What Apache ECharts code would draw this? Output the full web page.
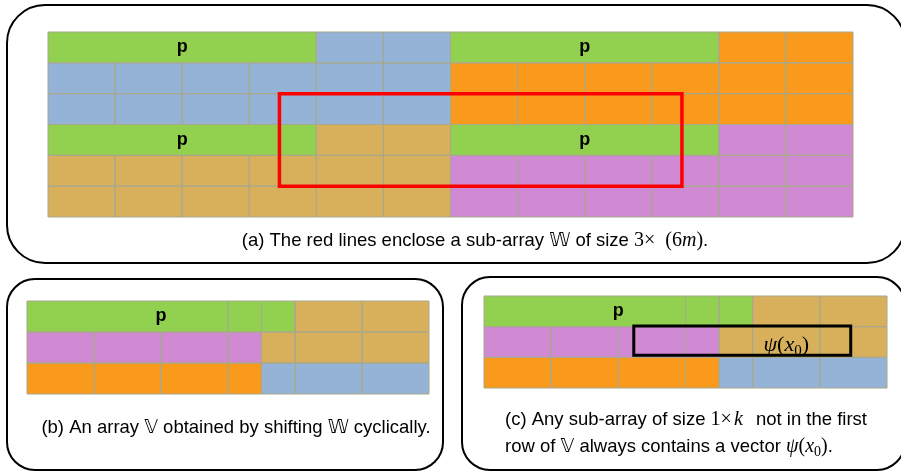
<!DOCTYPE html>
<html>
<head>
<meta charset="utf-8">
<script src="https://cdn.jsdelivr.net/npm/echarts@6/dist/echarts.min.js"></script>
<style>html,body{margin:0;padding:0;background:#fff}#c{width:901px;height:472px}</style>
</head>
<body>
<div id="c"></div>
<script>
// ---- data ----
// segment: [row, colStart, colEnd, colourKey, merged(1)]
const rowsA = [
  [0, 0, 4, 'G', 1], [0, 4, 6, 'B'], [0, 6, 10, 'G', 1], [0, 10, 12, 'O'],
  [1, 0, 6, 'B'], [1, 6, 12, 'O'],
  [2, 0, 6, 'B'], [2, 6, 12, 'O'],
  [3, 0, 4, 'G', 1], [3, 4, 6, 'T'], [3, 6, 10, 'G', 1], [3, 10, 12, 'P'],
  [4, 0, 6, 'T'], [4, 6, 12, 'P'],
  [5, 0, 6, 'T'], [5, 6, 12, 'P']
];
const labelsA = [[0, 2, 'p'], [0, 8, 'p'], [3, 2, 'p'], [3, 8, 'p']];
const redBoxA = [2, 5, 3.45, 9.45]; // rowStart,rowEnd,colStart,colEnd

const rowsB = [
  [0, 0, 3, 'G', 1], [0, 3, 3.5, 'G'], [0, 3.5, 4, 'G'], [0, 4, 6, 'T'],
  [1, 0, 3.5, 'P'], [1, 3.5, 6, 'T'],
  [2, 0, 3.5, 'O'], [2, 3.5, 6, 'B']
];
const labelsB = [[0, 2, 'p']];
const rowsC = rowsB;
const labelsC = [[0, 2, 'p']];
const blackBoxC = [0.98, 1.93, 2.23, 5.46];
const psiC = [1, 4.5];

const COLORS = {G: '#92d050', B: '#95b3d7', O: '#f99a1c', T: '#d8b05c', P: '#d08ad3'};

// split non-merged runs into unit cells
function toCells(rows) {
  const out = [];
  rows.forEach(([r, a, b, c, m]) => {
    if (m) { out.push({value: [r, a, b], itemStyle: {color: COLORS[c]}}); return; }
    const pts = [a];
    for (let k = Math.floor(a) + 1; k < b; k++) if (k > a) pts.push(k);
    pts.push(b);
    for (let i = 0; i < pts.length - 1; i++)
      out.push({value: [r, pts[i], pts[i + 1]], itemStyle: {color: COLORS[c]}});
  });
  return out;
}

function cellSeries(idx, rows, strokeOnly) {
  return {
    type: 'custom', xAxisIndex: idx, yAxisIndex: idx, silent: true, z: strokeOnly ? 3 : 2,
    encode: {x: [1, 2], y: 0},
    data: toCells(rows),
    renderItem: (p, api) => {
      const r = api.value(0), a = api.value(1), b = api.value(2);
      const p0 = api.coord([a, r]), p1 = api.coord([b, r + 1]);
      const shape = {x: p0[0], y: p0[1], width: p1[0] - p0[0], height: p1[1] - p0[1]};
      return strokeOnly
        ? {type: 'rect', shape, style: {fill: 'none', stroke: '#a8a88c', lineWidth: 1}}
        : {type: 'rect', shape, style: {fill: api.visual('color')}};
    }
  };
}
function labelSeries(idx, labels) {
  return {
    type: 'custom', xAxisIndex: idx, yAxisIndex: idx, silent: true, z: 5,
    encode: {x: 1, y: 0},
    data: labels.map(l => [l[0], l[1], l[2]]),
    renderItem: (p, api) => {
      const pt = api.coord([api.value(1), api.value(0) + 0.5]);
      return {type: 'text', x: pt[0], y: pt[1],
        style: {text: labels[p.dataIndex][2], fill: '#000', font: 'bold 18px "Liberation Sans", Arial, sans-serif',
          align: 'center', verticalAlign: 'middle'}};
    }
  };
}
function boxSeries(idx, box, color, lw) {
  return {
    type: 'custom', xAxisIndex: idx, yAxisIndex: idx, silent: true, z: 6,
    encode: {x: [2, 3], y: [0, 1]},
    data: [box],
    renderItem: (p, api) => {
      const p0 = api.coord([api.value(2), api.value(0)]), p1 = api.coord([api.value(3), api.value(1)]);
      return {type: 'rect', shape: {x: p0[0], y: p0[1], width: p1[0] - p0[0], height: p1[1] - p0[1]},
        style: {fill: 'none', stroke: color, lineWidth: lw}};
    }
  };
}

const grids = [
  {left: 48, top: 32, width: 805, height: 185},
  {left: 27, top: 301, width: 402, height: 93},
  {left: 484, top: 296, width: 403, height: 92}
];
const xMax = [12, 6, 6], yMax = [6, 3, 3];
const xAxes = grids.map((g, i) => ({type: 'value', gridIndex: i, min: 0, max: xMax[i], show: false}));
const yAxes = grids.map((g, i) => ({type: 'value', gridIndex: i, min: 0, max: yMax[i], inverse: true, show: false}));

const SANS = '"Liberation Sans", Arial, "DejaVu Sans", sans-serif';
const SERIF = '"Liberation Serif", "DejaVu Serif", serif';
const rich = {
  n: {fontFamily: SANS, fontSize: 18.5, fill: '#000'},
  d: {fontFamily: '"DejaVu Sans", sans-serif', fontSize: 19, fill: '#000'},
  m: {fontFamily: SERIF, fontSize: 20, fill: '#000'},
  mi: {fontFamily: SERIF, fontSize: 20, fontStyle: 'italic', fill: '#000'},
  mk: {fontFamily: SERIF, fontSize: 20, fontStyle: 'italic', fill: '#000', padding: [0, 8, 0, 2]},
  sub: {fontFamily: SERIF, fontSize: 14, fill: '#000', padding: [10, 0, 0, 0]},
  pm: {fontFamily: SERIF, fontSize: 22, fill: '#000'},
  pmi: {fontFamily: SERIF, fontSize: 22, fontStyle: 'italic', fill: '#000'},
  psub: {fontFamily: SERIF, fontSize: 15, fill: '#000', padding: [11, 0, 0, 0]}
};

const chart = echarts.init(document.getElementById('c'), null, {renderer: 'canvas'});
chart.setOption({
  animation: false,
  backgroundColor: '#fff',
  grid: grids,
  xAxis: xAxes,
  yAxis: yAxes,
  series: [
    cellSeries(0, rowsA, false), cellSeries(0, rowsA, true), labelSeries(0, labelsA), boxSeries(0, redBoxA, '#ff0000', 3.5),
    cellSeries(1, rowsB, false), cellSeries(1, rowsB, true), labelSeries(1, labelsB),
    cellSeries(2, rowsC, false), cellSeries(2, rowsC, true), labelSeries(2, labelsC), boxSeries(2, blackBoxC, '#000', 3),
    {
      type: 'custom', xAxisIndex: 2, yAxisIndex: 2, silent: true, z: 7, encode: {x: 1, y: 0},
      data: [psiC],
      renderItem: (p, api) => {
        const pt = api.coord([api.value(1), api.value(0) + 0.6]);
        return {type: 'text', x: pt[0], y: pt[1], style: {
          text: '{pmi|ψ}{pm|(}{pmi|x}{psub|0}{pm|)}', rich: rich, align: 'center', verticalAlign: 'middle'}};
      }
    }
  ],
  graphic: [
    {type: 'rect', shape: {x: 7, y: 5, width: 898, height: 258, r: 38}, style: {fill: 'none', stroke: '#000', lineWidth: 2}, z: -1},
    {type: 'rect', shape: {x: 7, y: 279, width: 436, height: 191, r: 28}, style: {fill: 'none', stroke: '#000', lineWidth: 2}, z: -1},
    {type: 'rect', shape: {x: 462, y: 277, width: 443, height: 193, r: 28}, style: {fill: 'none', stroke: '#000', lineWidth: 2}, z: -1},
    {type: 'text', x: 475, y: 241, style: {
      text: '{n|(a) The red lines enclose a sub-array }{d|𝕎}{n| of size }{m|3×  (6}{mi|m}{m|)}{n|.}',
      rich: rich, align: 'center', verticalAlign: 'middle'}},
    {type: 'text', x: 236, y: 428, style: {
      text: '{n|(b) An array }{d|𝕍}{n| obtained by shifting }{d|𝕎}{n| cyclically.}',
      rich: rich, align: 'center', verticalAlign: 'middle'}},
    {type: 'text', x: 505, y: 420, style: {
      text: '{n|(c) Any sub-array of size }{m|1×}{mk|k}{n| not in the first}',
      rich: rich, align: 'left', verticalAlign: 'middle'}},
    {type: 'text', x: 505, y: 447, style: {
      text: '{n|row of }{d|𝕍}{n| always contains a vector }{mi|ψ}{m|(}{mi|x}{sub|0}{m|)}{n|.}',
      rich: rich, align: 'left', verticalAlign: 'middle'}}
  ]
});
</script>
</body>
</html>
